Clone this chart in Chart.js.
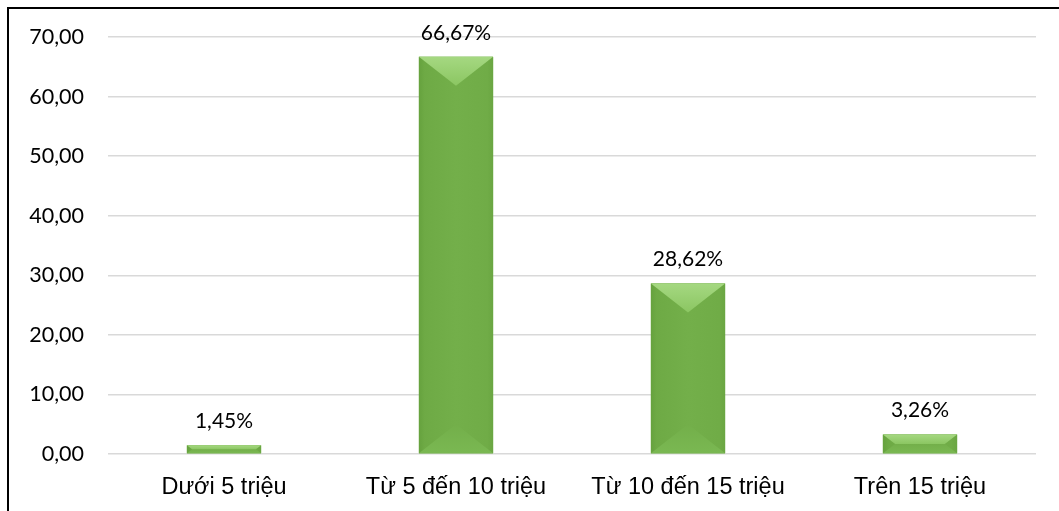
<!DOCTYPE html>
<html>
<head>
<meta charset="utf-8">
<script src="https://cdn.jsdelivr.net/npm/chart.js@4"></script>
<style>
  html, body { margin: 0; padding: 0; background: #fff; }
  #wrap { position: relative; width: 1059px; height: 511px; }
</style>
</head>
<body>
<div id="wrap"><canvas id="chart" width="1059" height="511"></canvas></div>
<script>
// dữ liệu biểu đồ
const categories = ['Dưới 5 triệu', 'Từ 5 đến 10 triệu', 'Từ 10 đến 15 triệu', 'Trên 15 triệu'];
const values = [1.45, 66.67, 28.62, 3.26];
const yTicks = [0, 10, 20, 30, 40, 50, 60, 70];

const fmt = (v, d) => v.toFixed(d).replace('.', ',');

// khung viền trái/trên
const framePlugin = {
    id: 'frame',
    afterDraw(chart) {
        const ctx = chart.ctx;
        ctx.save();
        ctx.strokeStyle = '#000';
        ctx.lineWidth = 2;
        ctx.beginPath();
        ctx.moveTo(8, 511);
        ctx.lineTo(8, 8);
        ctx.lineTo(1059, 8);
        ctx.stroke();
        ctx.restore();
    }
};

// hiệu ứng vát cạnh cho cột + nhãn giá trị
const bevelPlugin = {
    id: 'bevel',
    afterDatasetsDraw(chart) {
        const ctx = chart.ctx;
        const meta = chart.getDatasetMeta(0);
        meta.data.forEach((bar, i) => {
            const l = bar.x - bar.width / 2, r = bar.x + bar.width / 2;
            const t = bar.y, b = bar.base;
            const w = r - l, h = b - t;
            const k = Math.min(h / 2, w * 0.39);
            const ins = Math.min(k / 0.76, w / 2);
            ctx.save();
            // thân cột: gradient ngang nhẹ
            let g = ctx.createLinearGradient(l, 0, r, 0);
            g.addColorStop(0, '#66a23e');
            g.addColorStop(0.08, '#6eaa45');
            g.addColorStop(0.5, '#73af4a');
            g.addColorStop(0.92, '#70ac47');
            g.addColorStop(1, '#6aa642');
            ctx.fillStyle = g;
            ctx.fillRect(l, t, w, h);
            // mặt dưới
            g = ctx.createLinearGradient(0, b - k, 0, b);
            g.addColorStop(0, '#73af4a');
            g.addColorStop(1, '#7ab852');
            ctx.fillStyle = g;
            ctx.beginPath();
            ctx.moveTo(l, b); ctx.lineTo(r, b);
            ctx.lineTo(r - ins, b - k); ctx.lineTo(l + ins, b - k);
            ctx.closePath(); ctx.fill();
            // mặt trên
            g = ctx.createLinearGradient(0, t, 0, t + k);
            g.addColorStop(0, '#a5d881');
            g.addColorStop(1, '#8bc662');
            ctx.fillStyle = g;
            ctx.beginPath();
            ctx.moveTo(l, t); ctx.lineTo(r, t);
            ctx.lineTo(r - ins, t + k); ctx.lineTo(l + ins, t + k);
            ctx.closePath(); ctx.fill();
            // nhãn
            ctx.fillStyle = '#000';
            ctx.font = '21px Lato, "Open Sans", sans-serif';
            ctx.textAlign = 'center';
            ctx.textBaseline = 'middle';
            ctx.fillText(fmt(values[i], 2) + '%', bar.x, t - 24);
            ctx.restore();
        });
    }
};

new Chart(document.getElementById('chart'), {
    type: 'bar',
    data: {
        labels: categories,
        datasets: [{
            data: values,
            backgroundColor: '#72ae49',
            borderWidth: 0,
            barPercentage: 0.32,
            categoryPercentage: 1
        }]
    },
    options: {
        responsive: false,
        animation: false,
        layout: { padding: { top: 37, right: 23, left: 0, bottom: 0 } },
        plugins: { legend: { display: false }, tooltip: { enabled: false } },
        scales: {
            x: {
                grid: { display: false, drawTicks: false },
                border: { display: false },
                ticks: {
                    color: '#000',
                    padding: 19,
                    font: { family: '"Liberation Sans", Arial, sans-serif', size: 23.5 }
                },
                afterFit: (s) => { s.height = 57; }
            },
            y: {
                min: 0,
                max: 70,
                afterBuildTicks: (s) => { s.ticks = yTicks.map(v => ({ value: v })); },
                grid: { color: '#d9d9d9', lineWidth: 1.5, drawTicks: false },
                border: { display: false },
                ticks: {
                    color: '#000',
                    padding: 24,
                    font: { family: 'Lato, "Open Sans", sans-serif', size: 21.5 },
                    callback: (v) => fmt(v, 2)
                },
                afterFit: (s) => { s.width = 108; }
            }
        }
    },
    plugins: [framePlugin, bevelPlugin]
});
</script>
</body>
</html>
